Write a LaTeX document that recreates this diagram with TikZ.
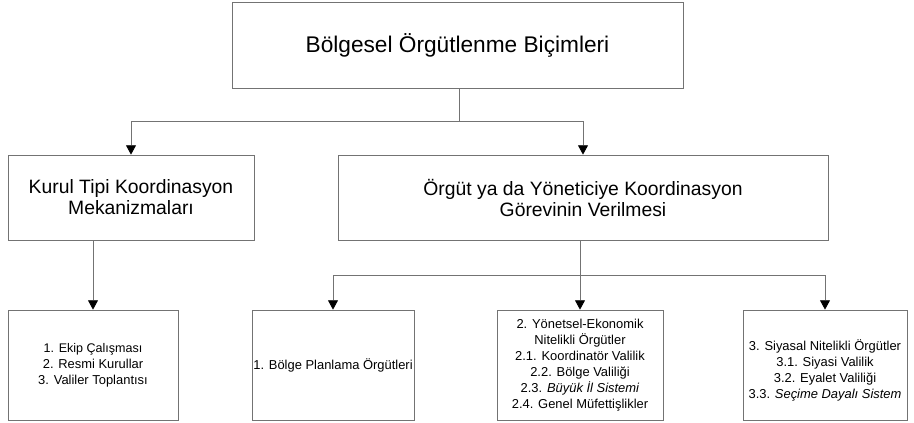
\documentclass[tikz,border=0pt]{standalone}
\usepackage{fontspec}
\setmainfont{Liberation Sans}
\usetikzlibrary{arrows.meta}
\begin{document}
\begin{tikzpicture}[x=0.75pt,y=-0.75pt,
  box/.style={draw=black!55, line width=0.6pt, rectangle, inner sep=0pt, align=center, text=black},
  conn/.style={draw=black!55, line width=0.6pt},
  arr/.style={conn, -{Triangle[width=7.5pt,length=7pt,fill=black,color=black]}},
  title/.style={font=\fontsize{17}{20}\selectfont},
  mid/.style={font=\fontsize{14.5}{15.75}\selectfont},
  small/.style={font=\fontsize{9.7}{12}\selectfont}
]
\useasboundingbox (0,0) rectangle (914,422);

\node[box, title, minimum width=338.25pt, minimum height=64.5pt] (top) at (457.5,45) {Bölgesel Örgütlenme Biçimleri};

\node[box, mid, minimum width=184.5pt, minimum height=63.75pt] (kurul) at (131,197.5) {Kurul Tipi Koordinasyon\\Mekanizmaları};
\node[box, mid, minimum width=367.5pt, minimum height=63.75pt] (orgut) at (583,197.5) {Örgüt ya da Yöneticiye Koordinasyon\\Görevinin Verilmesi};

\node[box, small, minimum width=127.5pt, minimum height=82.5pt] (ekip) at (93,365) {\fontsize{9.4}{10.6}\selectfont 1. Ekip Çalışması\\2. Resmi Kurullar\\3. Valiler Toplantısı};
\node[box, small, minimum width=121.5pt, minimum height=82.5pt] (bolge) at (333,365) {1. Bölge Planlama Örgütleri};
\node[box, small, minimum width=124.5pt, minimum height=82.5pt] (yon) at (580,365) {2. Yönetsel-Ekonomik\\Nitelikli Örgütler\\2.1. Koordinatör Valilik\\2.2. Bölge Valiliği\\2.3. \textit{Büyük İl Sistemi}\\2.4. Genel Müfettişlikler};
\node[box, small, minimum width=123pt, minimum height=82.5pt] (siy) at (825,365) {\rule{0pt}{16pt}3. Siyasal Nitelikli Örgütler\\3.1. Siyasi Valilik\\3.2. Eyalet Valiliği\\3.3. \textit{Seçime Dayalı Sistem}};

\coordinate (j1) at (459,121);
\coordinate (j2) at (580,275);

\draw[conn] (top.south -| j1) -- (j1);
\draw[arr] (j1) -| (kurul.north);
\draw[arr] (j1) -| (orgut.north);

\draw[arr] (kurul.south -| ekip.north) -- (ekip.north);

\draw[conn] (orgut.south -| j2) -- (j2);
\draw[arr] (j2) -| (bolge.north);
\draw[arr] (j2) -- (yon.north);
\draw[arr] (j2) -| (siy.north);
\end{tikzpicture}
\end{document}
